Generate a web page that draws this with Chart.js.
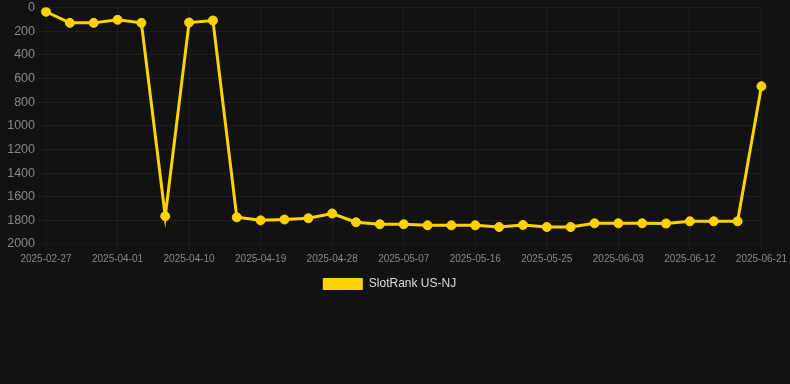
<!DOCTYPE html>
<html>
<head>
<meta charset="utf-8">
<script src="https://cdn.jsdelivr.net/npm/chart.js@4/dist/chart.umd.min.js"></script>
<style>
  html, body { margin: 0; padding: 0; background: #121212; overflow: hidden; }
  #wrap { width: 790px; height: 304px; position: relative; margin-top: -3px; }
</style>
</head>
<body>
<div id="wrap"><canvas id="myChart"></canvas></div>
<script>
var dates = ['2025-02-27','2025-03-14','2025-03-26','2025-04-01','2025-04-04','2025-04-07','2025-04-10',
    '2025-04-13','2025-04-16','2025-04-19','2025-04-22','2025-04-25','2025-04-28','2025-05-01',
    '2025-05-04','2025-05-07','2025-05-10','2025-05-13','2025-05-16','2025-05-19','2025-05-22',
    '2025-05-25','2025-05-28','2025-05-31','2025-06-03','2025-06-06','2025-06-09','2025-06-12',
    '2025-06-15','2025-06-18','2025-06-21'];
var rankNJ = [36,130,130,104,130,1765,127,110,1774,1800,1793,1782,1742,1816,1833,1833,1842,1842,1842,
    1856,1839,1856,1856,1825,1825,1825,1827,1808,1808,1808,666];
var seriesName = 'SlotRank US-NJ';

var ctx = document.getElementById('myChart').getContext('2d');
var myChart = new Chart(ctx, {
    type: 'line',
    data: {
        labels: dates,
        datasets: [{
            label: seriesName,
            data: rankNJ,
            borderColor: '#FFD200',
            backgroundColor: '#FFD200',
            pointBackgroundColor: '#FFD200',
            pointBorderColor: '#FFD200',
            borderWidth: 3,
            pointBorderWidth: 1,
            pointRadius: 4.5,
            tension: 0
        }]
    },
    options: {
        animation: false,
        responsive: true,
        maintainAspectRatio: false,
        layout: { padding: { left: 0, right: 11, bottom: 1 } },
        plugins: {
            legend: {
                position: 'bottom',
                labels: {
                    color: '#dddddd',
                    font: { size: 12, family: 'Liberation Sans, Arial' },
                    boxWidth: 40,
                    boxHeight: 12,
                    generateLabels: function (chart) {
                        var items = Chart.defaults.plugins.legend.labels.generateLabels(chart);
                        items.forEach(function (it) { it.lineWidth = 0; });
                        return items;
                    }
                }
            },
            tooltip: { enabled: false }
        },
        scales: {
            x: {
                ticks: { color: '#888888', padding: 3, font: { size: 10, family: 'Liberation Sans, Arial' }, maxRotation: 0 },
                grid: { color: 'rgba(255,255,255,0.05)', tickLength: 6 }
            },
            y: {
                reverse: true,
                min: 0,
                max: 2000,
                afterFit: function (scale) { scale.width = 46; },
                ticks: {
                    color: '#888888',
                    stepSize: 200,
                    font: { size: 12.5, family: 'Liberation Sans, Arial' },
                    callback: function (v) { return String(v); }
                },
                grid: { color: 'rgba(255,255,255,0.05)' }
            }
        }
    }
});
</script>
</body>
</html>
